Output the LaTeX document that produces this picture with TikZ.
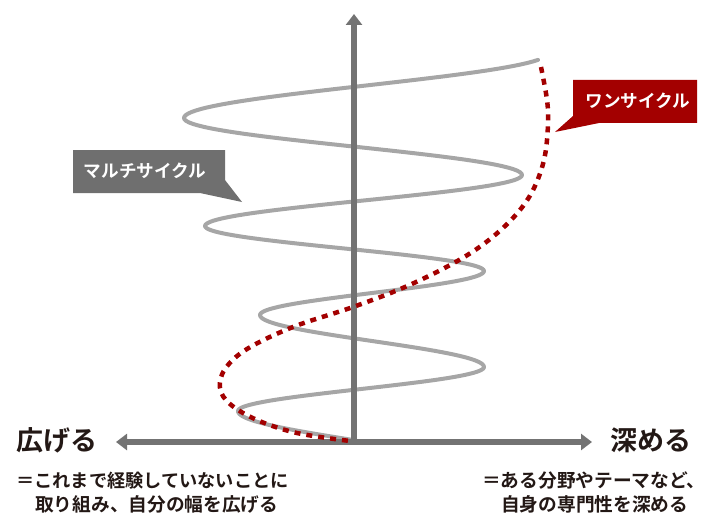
\documentclass[tikz,border=0pt]{standalone}
\usepackage{fontspec}
\setmainfont{Noto Sans CJK JP}[BoldFont={Noto Sans CJK JP Bold}]
\usetikzlibrary{arrows.meta}
\definecolor{txtblack}{HTML}{231815}
\definecolor{axisgrey}{HTML}{737373}
\definecolor{curvegrey}{HTML}{A6A6A6}
\definecolor{boxgrey}{HTML}{6F6F6F}
\definecolor{darkred}{HTML}{A30000}
% x and y of a half-turn from (#1,#2) to (#3,#4)
\newcommand\hxc[2]{(#1+#2)/2+(#1-#2)/2*cos(180*\s)}
\newcommand\hyc[2]{#1+(#2-#1)*\s}
\tikzset{
  hp/.style={samples=40,variable=\s},
  axisline/.style={draw=axisgrey, line width=5.5pt},
  axistip/.style={-{Triangle[width=16pt,length=11pt]}},
  greycurve/.style={draw=curvegrey, line width=4pt, line cap=round, line join=round},
  redcurve/.style={draw=darkred, line width=4.5pt, dash pattern=on 6pt off 6pt},
  bigword/.style={font=\bfseries\fontsize{27}{30}\selectfont, text=txtblack, inner sep=0pt},
  subline/.style={font=\bfseries\fontsize{18.7}{22}\selectfont, text=txtblack, inner sep=0pt, anchor=west},
  calltext/.style={font=\bfseries\fontsize{17.6}{20}\selectfont, text=white, inner sep=0pt}
}
\begin{document}
\begin{tikzpicture}[x=1pt,y=-1pt]
\useasboundingbox (0,0) rectangle (706,516);
% named points
\coordinate (origin) at (354,442);
\coordinate (top) at (354,14);
\coordinate (leftend) at (116,442);
\coordinate (rightend) at (592,442);
% grey multi-cycle helix
\draw[greycurve] plot[hp,domain=0.106:1] ({\hxc{548}{184}},{\hyc{53}{118}})
  -- plot[hp,domain=0:1] ({\hxc{184}{522}},{\hyc{118}{175}})
  -- plot[hp,domain=0:1] ({\hxc{522}{205}},{\hyc{175}{226}})
  -- plot[hp,domain=0:1] ({\hxc{205}{484}},{\hyc{226}{271}})
  -- plot[hp,domain=0:1] ({\hxc{484}{260}},{\hyc{271}{315}})
  -- plot[hp,domain=0:1] ({\hxc{260}{484}},{\hyc{315}{367}})
  -- plot[hp,domain=0:1] ({\hxc{484}{238}},{\hyc{367}{411}})
  -- plot[hp,domain=0:0.5] ({\hxc{238}{468}},{\hyc{411}{469}});
% axes
\draw[axisline, axistip] (origin) -- (top);
\draw[axisline, {Triangle[width=16pt,length=11pt]}-{Triangle[width=16pt,length=11pt]}] (leftend) -- (rightend);
% red one-cycle curve
\draw[redcurve] plot[smooth, tension=0.6] coordinates {(541,67) (547,100) (548,125) (544,160) (532,192) (513,218) (485,243) (452,264) (405,287) (353,307) (293,327) (247,349) (225,369) (220,388) (230,404) (257,420) (297,433) (350,441)};
% callouts
\fill[boxgrey] (73,150) -- (225,150) -- (225,180) -- (242,202) -- (200,193) -- (73,193) -- cycle;
\node[calltext] (multi) at (145,171) {マルチサイクル};
\fill[darkred] (573,80) -- (697,80) -- (697,123) -- (599,123) -- (555,132) -- (573,116) -- cycle;
\node[calltext] (one) at (638,101) {ワンサイクル};
% axis labels
\node[bigword, anchor=west] (widen) at (16,440) {広げる};
\node[bigword, anchor=east] (deepen) at (692,440) {深める};
\node[subline, font=\bfseries\fontsize{18.2}{22}\selectfont] (w1) at (16,481) {＝これまで経験していないことに};
\node[subline] (w2) at (35,504) {取り組み、自分の幅を広げる};
\node[subline] (d1) at (482,481) {＝ある分野やテーマなど、};
\node[subline] (d2) at (501,504) {自身の専門性を深める};
\end{tikzpicture}
\end{document}
